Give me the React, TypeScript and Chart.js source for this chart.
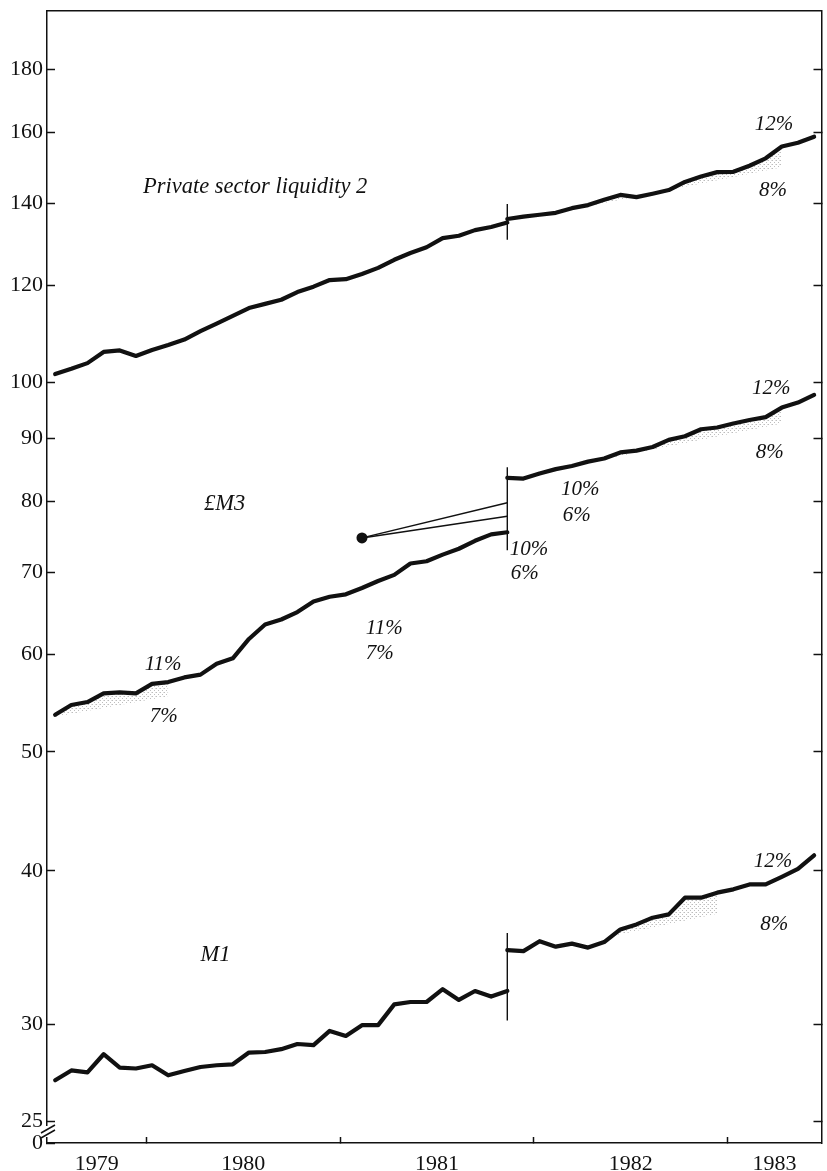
import React, { useEffect, useRef } from 'react';
import { Chart, registerables } from 'chart.js';

Chart.register(...registerables);

// ---------------- data (monthly, index 0 = July 1979) ----------------
const START_YEAR = 1979;
const START_MONTH = 7;
const BREAK_INDEX = 28; // November 1981 – change of definition (series break)

const psl2Before = [101.6, 102.6, 103.7, 105.9, 106.2, 105.1, 106.3, 107.3, 108.4, 110.1, 111.7, 113.3, 115.0, 115.9, 116.8, 118.5, 119.7, 121.2, 121.4, 122.6, 124.0, 125.9, 127.5, 128.9, 131.1, 131.7, 133.1, 133.9, 135.0];
const psl2After = [135.9, 136.5, 137.0, 137.5, 138.7, 139.5, 140.9, 142.2, 141.6, 142.5, 143.5, 145.7, 147.2, 148.4, 148.5, 150.2, 152.3, 155.7, 156.8, 158.6];
const m3Before = [53.6, 54.6, 54.9, 55.8, 55.9, 55.8, 56.8, 57.0, 57.5, 57.8, 59.0, 59.6, 61.8, 63.5, 64.1, 65.0, 66.3, 66.9, 67.2, 68.0, 68.9, 69.7, 71.2, 71.5, 72.4, 73.2, 74.3, 75.2, 75.5];
const m3After = [83.6, 83.5, 84.3, 85.0, 85.5, 86.2, 86.7, 87.7, 88.0, 88.6, 89.8, 90.4, 91.6, 91.9, 92.6, 93.2, 93.7, 95.4, 96.3, 97.7];
const m1Before = [27.0, 27.5, 27.4, 28.35, 27.65, 27.6, 27.77, 27.25, 27.47, 27.68, 27.77, 27.82, 28.44, 28.47, 28.62, 28.9, 28.84, 29.62, 29.34, 29.94, 29.94, 31.13, 31.27, 31.27, 32.03, 31.39, 31.92, 31.59, 31.92];
const m1After = [34.47, 34.4, 35.05, 34.69, 34.89, 34.63, 34.99, 35.83, 36.17, 36.63, 36.86, 38.03, 38.03, 38.39, 38.63, 38.99, 38.99, 39.55, 40.15, 41.18];

// vertical break markers at the definition change [low, high]
const psl2BreakRange = [130.7, 139.8];
const m3BreakRange = [73.0, 85.3];
const m1BreakRange = [30.2, 35.6];

// £M3 1981-82 target: base point (Feb 1981) and fan ends (10%, 6%) at the break
const m3TargetBase = { index: 19, value: 74.7 };
const m3TargetFanEnds = [79.8, 77.8];

// lower bounds of target ranges (stippled areas)
const floorSeries = [2, 3, 1, 5];
const floorFrom = [0, 31, 31, 31];
const floorTo = [7, 45, 45, 41];
const floorStart = [53.4, 85.0, 137.5, 34.6];
const floorEnd = [55.5, 92.6, 149.8, 36.9];

// axis ticks
const yTicks = [25, 30, 40, 50, 60, 70, 80, 90, 100, 120, 140, 160, 180];
const yearLabels = ['1979', '1980', '1981', '1982', '1983'];
const yearBoundaries = [1980, 1981, 1982, 1983];

// text annotations: [text, year, value]
const seriesNames: [string, number, number][] = [
  ['Private sector liquidity 2', 1979.982, 142.7],
  ['£M3', 1980.297, 78.7],
  ['M1', 1980.279, 33.8],
];
const targetLabels: [string, number, number][] = [
  ['12%', 1983.14, 160.5],
  ['8%', 1983.161, 141.8],
  ['12%', 1983.125, 97.9],
  ['8%', 1983.145, 86.8],
  ['10%', 1982.14, 81.0],
  ['6%', 1982.149, 77.1],
  ['10%', 1981.875, 72.4],
  ['6%', 1981.88, 69.1],
  ['11%', 1981.132, 62.4],
  ['7%', 1981.132, 59.5],
  ['11%', 1979.991, 58.3],
  ['7%', 1980.017, 52.9],
  ['12%', 1983.134, 40.3],
  ['8%', 1983.168, 35.8],
];

// ---------------- layout constants ----------------
const X_MIN = 1979.487;
const X_MAX = 1983.484;
const Y_MIN = 24;
const Y_MAX = 200.8;
const INK = '#111';
const FONT = '"Liberation Serif", "Times New Roman", serif';

const monthX = (i: number) => START_YEAR + (START_MONTH - 1 + i + 0.35) / 12;
const pts = (vals: number[], offset: number) => vals.map((v, k) => ({ x: monthX(offset + k), y: v }));

const yearCentres = yearLabels.map((_, k) => {
  const a = k === 0 ? X_MIN : yearBoundaries[k - 1];
  const b = k < yearBoundaries.length ? yearBoundaries[k] : X_MAX;
  return (a + b) / 2;
});
const xTickValues = [...yearCentres, ...yearBoundaries].sort((a, b) => a - b);

export default function App() {
  const ref = useRef<HTMLCanvasElement>(null);

  useEffect(() => {
    document.body.style.margin = '0';
    document.body.style.overflow = 'hidden';
    const canvas = ref.current!;
    const ctx = canvas.getContext('2d')!;

    // light stipple pattern for target areas
    const pc = document.createElement('canvas');
    pc.width = 4;
    pc.height = 4;
    const pctx = pc.getContext('2d')!;
    pctx.fillStyle = 'rgba(90,90,90,0.4)';
    pctx.fillRect(0, 0, 1, 1);
    pctx.fillRect(2, 2, 1, 1);
    pctx.fillStyle = 'rgba(90,90,90,0.2)';
    pctx.fillRect(3, 0, 1, 1);
    const stipple = ctx.createPattern(pc, 'repeat');

    const seriesStyle = {
      borderColor: INK,
      borderWidth: 4.2,
      pointRadius: 0,
      tension: 0,
      fill: false,
      borderJoinStyle: 'round',
      borderCapStyle: 'round',
    };
    const thin = { borderColor: INK, borderWidth: 1.4, pointRadius: 0, tension: 0, fill: false };
    const bx = monthX(BREAK_INDEX);

    const datasets: any[] = [
      { label: 'PSL2 (old basis)', data: pts(psl2Before, 0), ...seriesStyle },
      { label: 'PSL2', data: pts(psl2After, BREAK_INDEX), ...seriesStyle },
      { label: '£M3 (old basis)', data: pts(m3Before, 0), ...seriesStyle },
      { label: '£M3', data: pts(m3After, BREAK_INDEX), ...seriesStyle },
      { label: 'M1 (old basis)', data: pts(m1Before, 0), ...seriesStyle },
      { label: 'M1', data: pts(m1After, BREAK_INDEX), ...seriesStyle },
      { label: 'break PSL2', data: psl2BreakRange.map((v) => ({ x: bx, y: v })), ...thin },
      { label: 'break £M3', data: m3BreakRange.map((v) => ({ x: bx, y: v })), ...thin },
      { label: 'break M1', data: m1BreakRange.map((v) => ({ x: bx, y: v })), ...thin },
      ...m3TargetFanEnds.map((v, k) => ({
        label: 'fan ' + k,
        data: [
          { x: monthX(m3TargetBase.index), y: m3TargetBase.value },
          { x: bx, y: v },
        ],
        ...thin,
      })),
      {
        label: 'target base',
        data: [{ x: monthX(m3TargetBase.index), y: m3TargetBase.value }],
        showLine: false,
        pointRadius: 5.5,
        pointBackgroundColor: INK,
        pointBorderWidth: 0,
      },
      ...floorSeries.map((s, k) => ({
        label: 'floor ' + k,
        data: [
          { x: monthX(floorFrom[k]), y: floorStart[k] },
          { x: monthX(floorTo[k]), y: floorEnd[k] },
        ],
        borderWidth: 0,
        borderColor: 'rgba(0,0,0,0)',
        pointRadius: 0,
        tension: 0,
        fill: { target: s, above: 'rgba(0,0,0,0)', below: stipple },
      })),
    ];

    const overlay = {
      id: 'overlay',
      afterDraw(chart: any) {
        const { ctx: c, chartArea } = chart;
        const xs = chart.scales.x;
        const ys = chart.scales.y;
        c.save();
        c.fillStyle = INK;
        c.textAlign = 'left';
        c.textBaseline = 'alphabetic';
        c.font = `italic 22.5px ${FONT}`;
        seriesNames.forEach(([t, xv, yv]) => c.fillText(t, xs.getPixelForValue(xv), ys.getPixelForValue(yv)));
        c.font = `italic 21px ${FONT}`;
        targetLabels.forEach(([t, xv, yv]) => c.fillText(t, xs.getPixelForValue(xv), ys.getPixelForValue(yv)));
        // axis break symbol between 25 and 0
        const ax = chartArea.left;
        const b = chartArea.bottom;
        c.fillStyle = '#fff';
        c.fillRect(ax - 2, b - 17, 4, 11);
        c.strokeStyle = INK;
        c.lineWidth = 1.5;
        c.beginPath();
        c.moveTo(ax - 6, b - 5);
        c.lineTo(ax + 8, b - 13);
        c.moveTo(ax - 6, b - 10);
        c.lineTo(ax + 8, b - 18);
        c.stroke();
        c.restore();
      },
    };

    const zeroPad = (s: any) => {
      s.paddingTop = 0;
      s.paddingBottom = 0;
      s.paddingLeft = 0;
      s.paddingRight = 0;
    };

    const chart = new Chart(ctx, {
      type: 'line',
      data: { datasets },
      options: {
        responsive: false,
        animation: false,
        devicePixelRatio: 1,
        layout: { padding: 0 },
        plugins: { legend: { display: false }, tooltip: { enabled: false } },
        scales: {
          x: {
            type: 'linear',
            position: 'bottom',
            min: X_MIN,
            max: X_MAX,
            bounds: 'data',
            afterBuildTicks: (s: any) => {
              s.ticks = xTickValues.map((v) => ({ value: v }));
            },
            afterFit: (s: any) => {
              s.height = 28;
              zeroPad(s);
            },
            ticks: {
              autoSkip: false,
              maxRotation: 0,
              minRotation: 0,
              padding: 14,
              color: INK,
              font: { family: FONT, size: 22 },
              callback: (v: any) => {
                const k = yearCentres.findIndex((c) => Math.abs(c - v) < 1e-6);
                return k >= 0 ? yearLabels[k] : '';
              },
            },
            grid: {
              drawOnChartArea: false,
              drawTicks: true,
              tickLength: -6,
              tickWidth: 1.5,
              tickColor: (c: any) =>
                c.tick && yearBoundaries.includes(c.tick.value) ? INK : 'rgba(0,0,0,0)',
            },
            border: { display: true, color: INK, width: 1.5 },
          },
          xTop: {
            type: 'linear',
            position: 'top',
            min: X_MIN,
            max: X_MAX,
            bounds: 'data',
            afterBuildTicks: (s: any) => {
              s.ticks = [];
            },
            afterFit: (s: any) => {
              s.height = 11;
              zeroPad(s);
            },
            ticks: { display: false },
            grid: { display: false, drawOnChartArea: false },
            border: { display: true, color: INK, width: 1.5 },
          },
          y: {
            type: 'logarithmic',
            position: 'left',
            min: Y_MIN,
            max: Y_MAX,
            bounds: 'data',
            afterBuildTicks: (s: any) => {
              s.ticks = [Y_MIN, ...yTicks].map((v) => ({ value: v }));
            },
            afterFit: (s: any) => {
              s.width = 47;
              zeroPad(s);
            },
            ticks: {
              autoSkip: false,
              padding: 12,
              color: INK,
              font: { family: FONT, size: 22 },
              callback: (v: any) => (v === Y_MIN ? '0' : String(v)),
            },
            grid: {
              drawOnChartArea: false,
              drawTicks: true,
              tickLength: -8,
              tickWidth: 1.5,
              tickColor: INK,
            },
            border: { display: true, color: INK, width: 1.5 },
          },
          y2: {
            type: 'logarithmic',
            position: 'right',
            min: Y_MIN,
            max: Y_MAX,
            bounds: 'data',
            afterBuildTicks: (s: any) => {
              s.ticks = yTicks.map((v) => ({ value: v }));
            },
            afterFit: (s: any) => {
              s.width = 2;
              zeroPad(s);
            },
            ticks: { display: false },
            grid: {
              drawOnChartArea: false,
              drawTicks: true,
              tickLength: -8,
              tickWidth: 1.5,
              tickColor: INK,
            },
            border: { display: true, color: INK, width: 1.5 },
          },
        },
      } as any,
      plugins: [overlay],
    });

    return () => chart.destroy();
  }, []);

  return (
    <canvas
      ref={ref}
      width={827}
      height={1171}
      style={{ display: 'block', width: 827, height: 1171, background: '#fff' }}
    />
  );
}
